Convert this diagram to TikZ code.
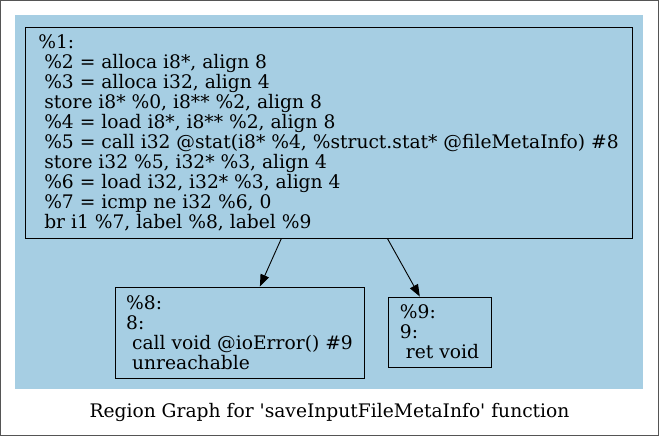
\documentclass[tikz,border=0pt]{standalone}
\usepackage{fontspec}
\setmainfont{DejaVu Serif}[Ligatures=TeXOff]
\usetikzlibrary{arrows.meta}
\definecolor{regionblue}{HTML}{A6CEE3}
\definecolor{frame}{HTML}{555555}
\tikzset{
  blk/.style={draw=black, line width=0.9pt, rectangle, align=left, inner xsep=0pt, inner ysep=0pt,
    font=\fontsize{18.67}{20}\selectfont, anchor=center},
  arr/.style={draw=black, line width=0.9pt, -{Triangle[length=12pt,width=9pt]}},
}
\begin{document}
\begin{tikzpicture}[x=1pt,y=-1pt]
\useasboundingbox (0,0) rectangle (659,436);
\draw[frame, line width=1pt] (0.5,0.5) rectangle (658.5,435.5);
\fill[regionblue] (15,15) rectangle (643,389);
\node[blk, minimum width=607pt, minimum height=211pt] (n1) at (328.5,132.5)
{\%1:\\
\ \%2 = alloca i8*, align 8\\
\ \%3 = alloca i32, align 4\\
\ store i8* \%0, i8** \%2, align 8\\
\ \%4 = load i8*, i8** \%2, align 8\\
\ \%5 = call i32 @stat(i8* \%4, \%struct.stat* @fileMetaInfo) \#8\\
\ store i32 \%5, i32* \%3, align 4\\
\ \%6 = load i32, i32* \%3, align 4\\
\ \%7 = icmp ne i32 \%6, 0\\
\ br i1 \%7, label \%8, label \%9};
\node[blk, minimum width=249pt, minimum height=91pt] (n8) at (239.5,332.5)
{\%8:\\
8:\\
\ call void @ioError() \#9\\
\ unreachable};
\node[blk, minimum width=103pt, minimum height=70pt] (n9) at (439.5,332)
{\%9:\\
9:\\
\ ret void};
\draw[arr] (n1) -- (n8);
\draw[arr] (n1) -- (n9);
\node[font=\fontsize{18.67}{20}\selectfont] (title) at (329.5,412) {Region Graph for 'saveInputFileMetaInfo' function};
\end{tikzpicture}
\end{document}
